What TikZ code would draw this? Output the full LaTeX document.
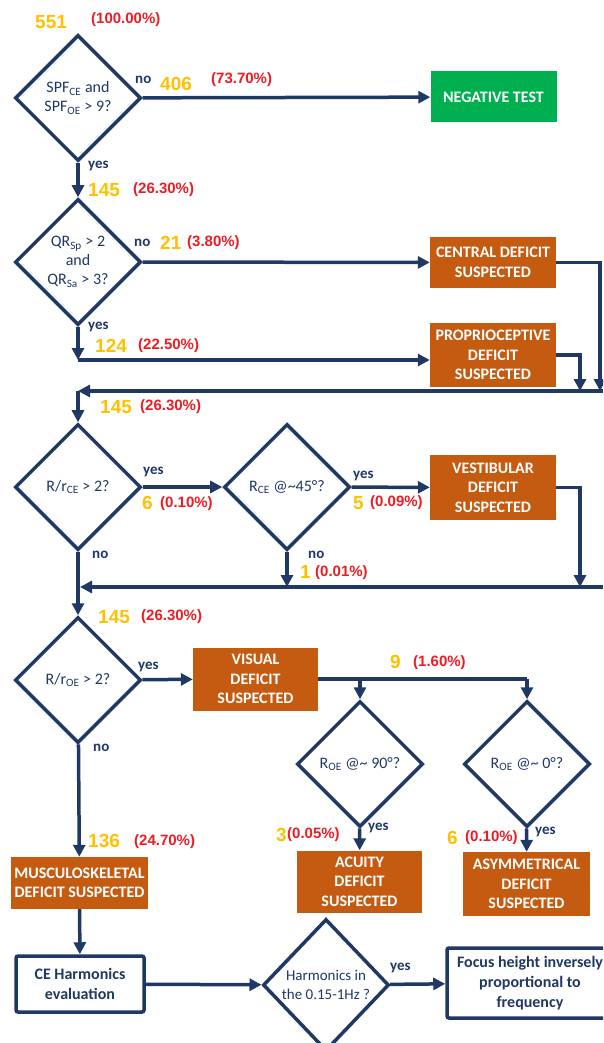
\documentclass[tikz,border=0pt]{standalone}
\usepackage{fontspec}
\setmainfont{Carlito}
\newfontfamily\numfont{Liberation Sans}
\usetikzlibrary{shapes.geometric, arrows.meta, positioning}

\definecolor{navy}{RGB}{32,56,100}
\definecolor{deficit}{RGB}{197,90,17}
\definecolor{negative}{RGB}{0,176,80}
\definecolor{countcol}{RGB}{255,192,0}
\definecolor{pctcol}{RGB}{235,28,36}

\begin{document}
\begin{tikzpicture}[
    x=1pt, y=-1pt,
    box/.style={rectangle, fill=deficit, text=white, minimum width=126pt, minimum height=51pt, inner sep=2pt, align=center, font=\fontsize{16pt}{19.5pt}\selectfont\bfseries},
    result/.style={box, fill=negative},
    plain/.style={rectangle, draw=navy, line width=3.5pt, fill=white, text=navy, rounded corners=2pt, inner sep=2pt, align=center, font=\fontsize{16pt}{20pt}\selectfont\bfseries},
    decision/.style={diamond, draw=navy, line width=3.5pt, fill=white, text=navy, minimum width=126pt, minimum height=126pt, inner sep=0pt, align=center, font=\fontsize{16pt}{19pt}\selectfont},
    count/.style={anchor=west, inner sep=0pt, text=countcol, font=\numfont\bfseries\fontsize{19pt}{19pt}\selectfont},
    pct/.style={anchor=west, inner sep=0pt, text=pctcol, font=\numfont\bfseries\fontsize{15pt}{15pt}\selectfont},
    answer/.style={anchor=west, inner sep=0pt, text=navy, font=\fontsize{15pt}{15pt}\selectfont\bfseries},
    arrow/.style={-{Triangle[length=12pt, width=12pt]}, line width=3.5pt, draw=navy},
    line/.style={line width=3.5pt, draw=navy}
]
    \useasboundingbox (0,0) rectangle (603,1043);
    \clip (0,0) rectangle (603,1043);

    % decisions
    \node[decision] (spf) at (78,98) {SPF\textsubscript{CE} and\\SPF\textsubscript{OE} > 9?};
    \node[decision] (qr) at (78,262) {QR\textsubscript{Sp} > 2\\and\\QR\textsubscript{Sa} > 3?};
    \node[decision] (rce) at (78,487) {R/r\textsubscript{CE} > 2?};
    \node[decision] (angce) at (287,487) {R\textsubscript{CE} @\textasciitilde45°?};
    \node[decision] (roe) at (78,680) {R/r\textsubscript{OE} > 2?};
    \node[decision] (ang90) at (360,764) {R\textsubscript{OE} @\textasciitilde{} 90°?};
    \node[decision] (ang0) at (527,764) {R\textsubscript{OE} @\textasciitilde{} 0°?};
    \node[decision, minimum height=132pt, font=\fontsize{15pt}{19pt}\selectfont] (harm) at (326,985) {Harmonics in\\the 0.15-1Hz ?};

    % outcomes
    \node[result] (neg) at (493.5,97) {NEGATIVE TEST};
    \node[box] (central) at (493,262.5) {CENTRAL DEFICIT\\SUSPECTED};
    \node[box, minimum height=64pt] (proprio) at (493,355) {PROPRIOCEPTIVE\\DEFICIT\\SUSPECTED};
    \node[box, minimum height=65pt] (vestib) at (493,487.5) {VESTIBULAR\\DEFICIT\\SUSPECTED};
    \node[box, minimum width=125pt, minimum height=63pt] (visual) at (255.5,679) {VISUAL\\DEFICIT\\SUSPECTED};
    \node[box, minimum width=125pt, minimum height=62pt] (acuity) at (359.5,881.5) {ACUITY\\DEFICIT\\SUSPECTED};
    \node[box, minimum width=127pt, minimum height=64pt] (asym) at (526.5,884) {ASYMMETRICAL\\DEFICIT\\SUSPECTED};
    \node[box, minimum width=137pt, minimum height=52pt] (musculo) at (79.5,883) {MUSCULOSKELETAL\\DEFICIT SUSPECTED};
    \node[plain, minimum width=128pt, minimum height=56pt] (cehar) at (80,984) {CE Harmonics\\evaluation};
    \node[plain, minimum width=166pt, minimum height=70pt] (focus) at (530,983) {Focus height inversely\\proportional to\\frequency};

    % bends and buses
    \coordinate (centralR) at (600,391);
    \coordinate (proprioR) at (580,391);
    \coordinate (yesqr) at (78,360);
    \coordinate (bus1R) at (603,391);
    \coordinate (bus1L) at (78,391);
    \coordinate (vestibR) at (580,587);
    \coordinate (noang) at (287,587);
    \coordinate (bus2R) at (603,587);
    \coordinate (bus2L) at (80,587);
    \coordinate (split90) at (360,679);
    \coordinate (split0) at (527,679);

    % counts
    \node[count] (n551) at (35,22) {551};
    \node[pct] (p551) at (91,20) {(100.00\%)};
    \node[answer] (no1) at (135,80) {no};
    \node[count] (n406) at (160,84) {406};
    \node[pct] (p406) at (211,80) {(73.70\%)};
    \node[answer] (yes1) at (88,166) {yes};
    \node[count] (n145a) at (88,190) {145};
    \node[pct] (p145a) at (133,190) {(26.30\%)};
    \node[answer] (no2) at (134,243) {no};
    \node[count] (n21) at (160,243) {21};
    \node[pct] (p21) at (187,243) {(3.80\%)};
    \node[answer] (yes2) at (88,327) {yes};
    \node[count] (n124) at (95,346) {124};
    \node[pct] (p124) at (138,346) {(22.50\%)};
    \node[count] (n145b) at (100,407) {145};
    \node[pct] (p145b) at (140,407) {(26.30\%)};
    \node[answer] (yes3) at (143,472) {yes};
    \node[count] (n6a) at (142,503) {6};
    \node[pct] (p6a) at (160,504) {(0.10\%)};
    \node[answer] (no3) at (92,555) {no};
    \node[answer] (yes4) at (353,476) {yes};
    \node[count] (n5) at (353,503) {5};
    \node[pct] (p5) at (370,503) {(0.09\%)};
    \node[answer] (no4) at (308,555) {no};
    \node[count] (n1) at (300,572) {1};
    \node[pct] (p1) at (315,573) {(0.01\%)};
    \node[count] (n145c) at (98,617) {145};
    \node[pct] (p145c) at (141,617) {(26.30\%)};
    \node[answer] (yes5) at (138,667) {yes};
    \node[count] (n9) at (390,662) {9};
    \node[pct] (p9) at (413,663) {(1.60\%)};
    \node[answer] (no5) at (93,748) {no};
    \node[count] (n136) at (88,841) {136};
    \node[pct] (p136) at (134,842) {(24.70\%)};
    \node[answer] (yes6) at (368,828) {yes};
    \node[count] (n3) at (276,835) {3};
    \node[pct] (p3) at (287,835) {(0.05\%)};
    \node[answer] (yes7) at (535,832) {yes};
    \node[count] (n6b) at (447,838) {6};
    \node[pct] (p6b) at (465,838) {(0.10\%)};
    \node[answer] (yes8) at (390,968) {yes};

    % connectors
    \draw[arrow] (spf) -- (neg);
    \draw[arrow] (spf) -- (qr);
    \draw[arrow] (qr) -- (central);
    \draw[arrow] (central.east) -| (centralR);
    \draw[arrow] (qr) -- (yesqr);
    \draw[arrow] (yesqr) -- (yesqr -| proprio.west);
    \draw[arrow] (proprio.east) -| (proprioR);
    \draw[arrow] (bus1R) -- (bus1L);
    \draw[arrow] (bus1L) -- (rce);
    \draw[arrow] (rce) -- (angce);
    \draw[arrow] (angce) -- (vestib);
    \draw[arrow] (vestib.east) -| (vestibR);
    \draw[arrow] (angce) -- (noang);
    \draw[arrow] (bus2R) -- (bus2L);
    \draw[arrow] (rce) -- (roe);
    \draw[arrow] (roe) -- (visual);
    \draw[line] (visual.east) -- (split0);
    \draw[arrow] (split90) -- (ang90);
    \draw[arrow] (split0) -- (ang0);
    \draw[arrow] (ang90) -- (acuity);
    \draw[arrow] (ang0) -- (asym);
    \draw[arrow] (roe) -- (musculo);
    \draw[arrow] (musculo) -- (cehar);
    \draw[arrow] (cehar) -- (harm);
    \draw[arrow] (harm) -- (focus);
\end{tikzpicture}
\end{document}
